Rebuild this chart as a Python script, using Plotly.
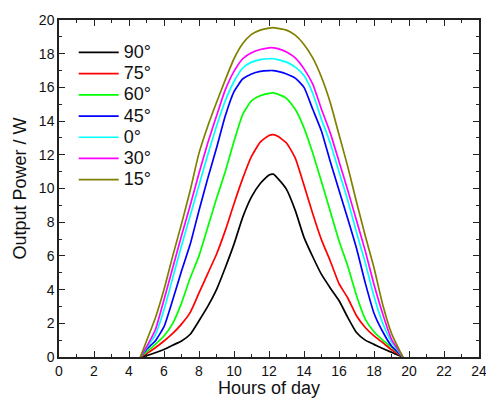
import plotly.graph_objects as go

hours = [4.65, 5, 5.5, 6, 6.5, 7, 7.5, 8, 8.5, 9, 9.5, 10, 10.5, 11, 11.5, 12, 12.25,
         12.5, 13, 13.5, 14, 14.5, 15, 15.5, 16, 16.5, 17, 17.5, 18, 18.5, 19, 19.5, 19.65]

p90 = [0, 0.08, 0.25, 0.45, 0.7, 0.95, 1.35, 2.15, 3.0, 4.0, 5.3, 6.7, 8.3, 9.5, 10.3, 10.8, 10.85,
       10.6, 9.95, 8.7, 7.1, 5.95, 4.9, 4.1, 3.35, 2.35, 1.45, 1.0, 0.75, 0.5, 0.28, 0.06, 0]
p75 = [0, 0.2, 0.55, 0.95, 1.4, 1.95, 2.65, 3.8, 4.95, 6.1, 7.5, 9.1, 10.6, 11.9, 12.75, 13.15, 13.2,
       13.1, 12.7, 11.8, 10.2, 8.5, 6.95, 5.7, 4.35, 3.5, 2.45, 1.75, 1.25, 0.85, 0.43, 0.1, 0]
p60 = [0, 0.3, 0.75, 1.25, 2.0, 3.2, 4.7, 6.0, 7.7, 9.4, 11.0, 12.8, 14.4, 15.2, 15.5, 15.65, 15.67,
       15.6, 15.35, 14.7, 13.6, 12.1, 10.4, 8.65, 6.9, 5.4, 3.65, 2.25, 1.5, 1.0, 0.58, 0.15, 0]
p45 = [0, 0.45, 0.95, 1.8, 3.4, 5.1, 6.7, 8.7, 10.6, 12.4, 14.3, 15.75, 16.5, 16.8, 16.95, 17.0, 17.0,
       16.95, 16.8, 16.55, 16.0, 14.7, 13.4, 11.6, 9.9, 8.2, 6.45, 4.4, 2.6, 1.5, 0.65, 0.15, 0]
p0 = [0, 0.55, 1.3, 2.8, 4.7, 6.6, 8.4, 10.2, 12.0, 13.7, 15.2, 16.35, 17.15, 17.5, 17.65, 17.7, 17.7,
      17.65, 17.5, 17.2, 16.7, 15.65, 14.1, 12.7, 11.0, 9.3, 7.4, 5.6, 3.6, 2.0, 0.9, 0.2, 0]
p30 = [0, 0.6, 1.6, 3.4, 5.3, 7.2, 9.0, 10.9, 12.7, 14.3, 15.85, 16.95, 17.7, 18.05, 18.25, 18.35, 18.35,
       18.3, 18.1, 17.75, 17.1, 16.2, 14.7, 13.3, 11.6, 9.9, 8.1, 6.3, 4.3, 2.55, 1.05, 0.25, 0]
p15 = [0, 0.95, 2.3, 4.0, 6.0, 7.9, 9.9, 12.1, 13.7, 15.1, 16.45, 17.7, 18.6, 19.15, 19.4, 19.52, 19.55,
       19.5, 19.4, 19.1, 18.55, 17.75, 16.6, 15.1, 13.2, 11.3, 9.2, 7.2, 5.3, 3.1, 1.4, 0.3, 0]

series_names = ["90°", "75°", "60°", "45°", "0°", "30°", "15°"]
series_values = [p90, p75, p60, p45, p0, p30, p15]
series_colors = ["#000000", "#FF0000", "#00FF00", "#0000FF", "#00FFFF", "#FF00FF", "#808000"]

x_ticks = list(range(0, 25, 2))
y_ticks = list(range(0, 21, 2))

FONT = "Liberation Sans, Arial, sans-serif"

fig = go.Figure()
for name, vals, col in zip(series_names, series_values, series_colors):
    fig.add_trace(go.Scatter(x=hours, y=vals, mode="lines",
                             name='<span style="font-size:18px">%s</span>' % name,
                             line=dict(color=col, width=1.7, shape="spline", smoothing=0.5)))

axis_common = dict(
    showline=True, linecolor="#222222", linewidth=1.5, mirror="allticks",
    ticks="inside", ticklen=6, tickwidth=1.2, tickcolor="#222222",
    showgrid=False, zeroline=False, automargin=False, ticklabeloverflow="allow",
    tickfont=dict(family=FONT, size=14, color="#111111"),
    minor=dict(ticks="inside", ticklen=3, tickwidth=1, tickcolor="#222222", dtick=1, showgrid=False),
)

fig.update_xaxes(range=[0, 24], tickvals=x_ticks,
                 title=dict(text="Hours of day", standoff=11,
                            font=dict(family=FONT, size=18, color="#111111")),
                 **axis_common)
fig.update_yaxes(range=[0, 20], tickvals=y_ticks,
                 title=dict(text="Output Power / W", standoff=8,
                            font=dict(family=FONT, size=18, color="#111111")),
                 **axis_common)

fig.update_layout(
    width=486, height=398,
    margin=dict(l=59, r=7, t=20, b=41, autoexpand=False),
    paper_bgcolor="white", plot_bgcolor="white",
    showlegend=True,
    legend=dict(x=0.035, y=0.95, xanchor="left", yanchor="top",
                bgcolor="rgba(0,0,0,0)", borderwidth=0, itemwidth=40,
                tracegroupgap=0,
                font=dict(family=FONT, size=14, color="#111111")),
)

fig.write_html("out.html", config={"displayModeBar": False},
               post_script="document.body.style.margin='0';document.body.style.overflow='hidden';")
